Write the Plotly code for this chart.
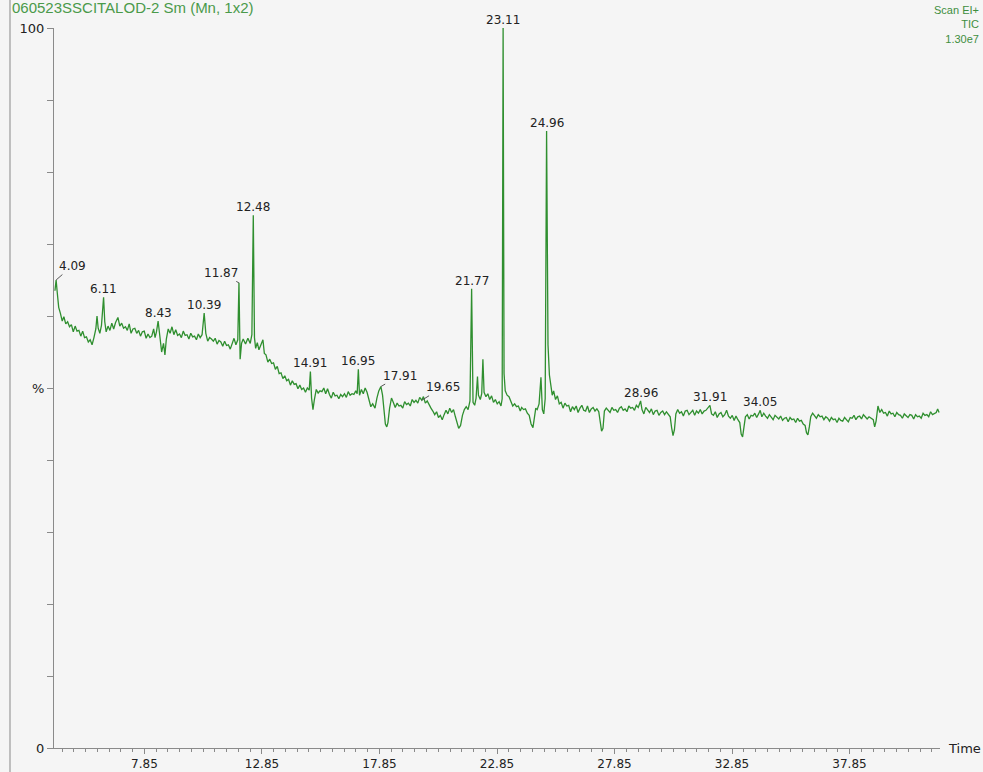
import plotly.graph_objects as go

# ---------------- data ----------------
run_title = "060523SSCITALOD-2 Sm (Mn, 1x2)"
scan_info = ["Scan EI+", "TIC", "1.30e7"]

# (retention time in min, relative intensity in %)
tic_trace = [
    (4.04,63.5),(4.09,65.0),(4.14,63.2),(4.20,61.2),(4.27,60.4),(4.35,59.3),
    (4.42,59.9),(4.50,58.9),(4.58,59.2),(4.66,58.5),(4.74,58.8),(4.82,57.8),(4.90,58.6),(4.98,57.9),
    (5.06,58.0),(5.14,57.2),(5.22,57.9),(5.30,57.0),(5.38,57.1),(5.46,56.4),(5.54,56.7),(5.62,56.0),
    (5.70,57.0),(5.78,58.2),(5.83,60.0),(5.88,58.3),(5.95,57.6),(6.02,58.7),(6.11,62.6),(6.16,59.2),
    (6.22,57.8),(6.30,58.6),(6.38,58.0),(6.46,59.0),(6.54,58.2),(6.62,59.1),
    (6.72,59.8),(6.80,58.6),(6.88,59.0),(6.96,58.3),(7.04,58.5),(7.12,58.0),(7.20,58.9),(7.28,57.6),
    (7.36,58.2),(7.44,58.3),(7.52,57.6),(7.60,58.0),(7.68,57.2),(7.76,57.8),(7.84,57.9),(7.92,56.9),
    (8.00,57.5),(8.08,57.0),(8.16,57.2),(8.24,58.2),(8.30,57.0),
    (8.36,57.8),(8.43,59.3),(8.50,56.8),(8.58,55.0),(8.66,56.2),(8.72,54.6),(8.78,56.8),
    (8.86,58.2),(8.94,57.6),(9.02,58.5),
    (9.10,57.4),(9.18,58.1),(9.26,57.3),(9.34,57.5),(9.42,57.0),(9.50,57.9),(9.58,57.3),(9.66,57.4),
    (9.74,56.8),(9.82,57.6),(9.90,57.1),(9.98,57.2),(10.06,56.7),(10.14,57.5),(10.22,57.0),(10.30,57.4),
    (10.39,60.4),
    (10.46,57.6),(10.54,56.5),(10.62,57.0),(10.70,56.8),(10.78,56.5),(10.86,56.9),(10.94,56.1),(11.02,56.6),
    (11.10,56.4),(11.18,55.8),(11.26,56.5),(11.34,55.9),(11.42,56.0),(11.50,55.4),(11.58,56.3),(11.66,56.9),
    (11.74,56.0),(11.82,56.7),(11.87,64.6),(11.92,54.0),
    (11.98,56.2),(12.05,56.8),(12.15,56.1),(12.25,56.9),(12.35,56.2),(12.42,57.4),(12.48,74.0),(12.53,57.0),
    (12.58,55.5),(12.65,56.3),(12.72,55.3),(12.80,56.0),(12.89,56.7),(12.95,54.8),
    (13.02,54.6),(13.10,53.6),(13.18,54.0),(13.26,53.4),(13.34,53.5),(13.42,52.6),(13.50,53.0),(13.58,52.0),
    (13.66,52.1),(13.74,51.3),(13.82,51.7),(13.90,51.0),(13.98,51.2),(14.06,50.4),(14.14,51.0),(14.22,50.5),
    (14.30,50.6),(14.38,49.9),(14.46,50.4),(14.54,49.8),(14.62,50.0),(14.70,49.4),(14.78,50.0),(14.86,49.7),
    (14.91,52.3),(14.96,48.6),(15.02,47.0),(15.08,48.4),
    (15.16,49.8),(15.24,49.3),(15.32,49.6),(15.40,49.5),(15.48,50.0),(15.56,49.2),(15.64,49.9),(15.72,49.1),
    (15.80,48.6),(15.88,49.4),(15.96,48.9),(16.04,49.0),(16.12,48.5),(16.20,49.1),(16.28,48.8),(16.36,49.2),
    (16.44,48.7),(16.52,49.5),(16.60,49.0),(16.68,49.2),(16.76,49.1),(16.84,49.6),(16.90,49.2),
    (16.95,52.6),(17.00,49.0),(17.08,49.8),(17.16,49.2),(17.24,50.0),(17.32,49.4),(17.40,48.4),
    (17.48,47.4),(17.56,47.8),(17.66,47.2),(17.74,48.6),(17.82,49.6),(17.91,50.2),(17.98,49.0),(18.04,47.0),
    (18.10,45.0),(18.16,44.6),(18.21,45.2),(18.28,47.2),(18.36,48.6),
    (18.44,48.0),(18.52,47.3),(18.60,47.9),(18.68,47.5),(18.76,47.6),(18.84,47.2),(18.92,48.1),(19.00,47.7),
    (19.08,47.9),(19.16,47.5),(19.24,48.4),(19.32,48.0),(19.40,48.3),(19.48,47.9),(19.56,48.7),(19.65,48.3),
    (19.72,48.8),(19.80,47.9),(19.88,48.2),(19.96,47.6),
    (20.04,47.2),(20.12,46.8),(20.20,46.3),(20.28,46.7),(20.36,45.9),(20.44,46.2),(20.52,45.6),
    (20.60,46.3),(20.68,46.9),(20.76,46.4),(20.84,47.2),(20.92,46.6),(21.00,47.0),(21.08,46.0),(21.16,45.0),
    (21.22,44.4),(21.30,44.8),(21.38,46.2),(21.46,47.0),(21.54,47.4),(21.62,47.0),(21.70,48.2),(21.77,63.8),
    (21.83,48.0),(21.90,47.6),(21.96,48.6),(22.02,51.6),(22.06,49.0),(22.14,48.4),(22.20,49.2),(22.25,54.0),
    (22.30,49.4),(22.38,48.8),(22.46,49.2),(22.54,48.4),(22.62,48.9),(22.70,48.0),(22.78,48.4),(22.86,47.8),
    (22.94,48.1),(23.02,47.5),(23.07,48.5),(23.11,100.0),(23.15,52.0),(23.20,49.6),(23.28,49.0),(23.36,48.8),
    (23.44,48.2),(23.52,47.5),(23.60,47.8),(23.68,47.4),(23.76,47.5),(23.84,46.8),(23.90,47.3),(23.98,47.0),
    (24.06,47.1),(24.14,46.5),(24.22,46.2),
    (24.30,45.0),(24.38,44.5),(24.44,46.0),(24.50,47.2),(24.56,47.0),
    (24.64,47.8),(24.72,51.5),(24.78,47.0),(24.84,46.4),(24.90,48.5),(24.96,85.7),(25.02,56.0),(25.08,51.8),
    (25.14,50.2),(25.20,49.0),(25.26,49.6),(25.34,48.4),
    (25.42,48.9),(25.50,47.8),(25.58,48.0),(25.66,47.2),(25.74,47.9),(25.82,47.5),(25.90,47.6),(25.98,46.7),
    (26.06,47.4),(26.14,47.0),(26.22,47.5),(26.30,46.6),(26.38,47.2),(26.46,47.6),(26.54,46.9),(26.62,46.8),
    (26.70,47.5),(26.78,46.6),(26.86,47.1),(26.94,47.3),(27.02,46.8),(27.10,47.1),(27.18,46.7),
    (27.24,45.6),(27.30,44.0),(27.36,44.4),
    (27.42,46.8),(27.50,47.2),(27.58,46.9),(27.66,46.6),(27.74,47.3),(27.82,46.9),(27.90,47.0),(27.98,46.6),
    (28.06,47.2),(28.14,47.4),(28.22,46.9),(28.30,47.1),(28.38,46.7),(28.46,47.5),(28.54,47.2),(28.62,47.3),
    (28.70,46.9),(28.78,47.6),(28.86,47.3),(28.96,48.2),
    (29.02,47.0),(29.10,46.4),(29.18,47.3),(29.26,46.9),(29.34,46.6),(29.42,47.1),(29.50,46.3),(29.58,46.8),
    (29.66,46.9),(29.74,46.2),(29.82,46.6),(29.90,46.8),(29.98,46.3),(30.06,46.7),(30.14,46.4),(30.22,46.0),
    (30.28,44.5),(30.34,43.4),(30.40,44.2),
    (30.46,46.4),(30.54,47.0),(30.62,46.5),(30.70,46.7),(30.78,46.1),(30.86,46.8),(30.94,46.9),(31.02,46.3),
    (31.10,46.6),(31.18,46.9),(31.26,46.2),(31.34,46.8),(31.42,46.5),(31.50,47.0),(31.58,46.4),(31.66,46.8),
    (31.74,46.9),(31.82,47.2),(31.91,47.6),
    (31.98,46.4),(32.06,46.2),(32.14,46.7),(32.22,45.9),(32.30,46.4),(32.38,46.6),(32.46,46.0),(32.54,46.3),
    (32.62,46.9),(32.70,46.1),(32.78,45.8),(32.86,46.2),(32.94,45.5),(33.02,46.1),(33.10,45.6),(33.18,45.2),
    (33.24,43.6),(33.30,43.2),(33.36,44.6),
    (33.42,46.0),(33.50,46.3),(33.58,45.7),(33.66,46.2),(33.74,46.1),(33.82,46.5),(33.90,45.9),(33.98,46.4),
    (34.05,46.9),(34.12,46.0),(34.20,46.5),(34.28,46.1),(34.36,45.8),(34.44,46.3),(34.52,46.0),(34.60,45.6),
    (34.68,46.2),(34.76,45.9),(34.84,45.7),(34.92,46.1),(35.00,45.5),(35.08,45.8),(35.16,45.9),(35.24,45.3),
    (35.32,45.9),(35.40,45.6),(35.48,45.7),(35.56,45.2),(35.64,45.8),(35.72,45.4),(35.80,45.5),(35.88,45.0),
    (35.96,44.8),(36.02,43.8),(36.08,43.5),(36.14,44.6),
    (36.20,46.0),(36.28,46.5),(36.36,46.1),(36.44,45.8),(36.52,46.3),(36.60,46.0),(36.68,46.1),(36.76,45.6),
    (36.84,46.0),(36.92,45.8),(37.00,45.4),(37.08,45.9),(37.16,45.6),(37.24,45.7),(37.32,45.2),(37.40,45.8),
    (37.48,45.5),(37.56,45.4),(37.64,45.9),(37.72,45.6),(37.80,45.3),(37.88,45.9),(37.96,45.8),(38.04,46.2),
    (38.12,45.6),(38.20,46.0),(38.28,46.1),(38.36,45.7),(38.44,46.3),(38.52,46.0),(38.60,45.7),(38.68,46.0),
    (38.76,45.8),(38.86,45.6),(38.92,44.6),(38.98,45.4),(39.06,47.5),
    (39.14,46.6),(39.22,47.0),(39.30,46.5),(39.38,46.6),(39.46,46.1),(39.54,46.8),(39.62,46.4),(39.70,46.5),
    (39.78,46.0),(39.86,46.6),(39.94,46.3),(40.02,46.2),(40.10,45.8),(40.18,46.4),(40.26,46.1),(40.34,45.9),
    (40.42,46.3),(40.50,46.2),(40.58,45.7),(40.66,46.3),(40.74,46.0),(40.82,46.1),(40.90,45.8),(40.98,46.5),
    (41.06,46.2),(41.14,46.3),(41.22,46.0),(41.30,46.7),(41.38,46.3),(41.46,46.5),(41.54,46.6),(41.60,47.1),
    (41.66,46.6),
]

peak_times = [4.09, 6.11, 8.43, 10.39, 11.87, 12.48, 14.91, 16.95, 17.91, 19.65,
              21.77, 23.11, 24.96, 28.96, 31.91, 34.05]

x_tick_values = [7.85, 12.85, 17.85, 22.85, 27.85, 32.85, 37.85]
x_tick_labels = ["7.85", "12.85", "17.85", "22.85", "27.85", "32.85", "37.85"]
y_tick_values = [0, 10, 20, 30, 40, 50, 60, 70, 80, 90, 100]
y_tick_labels = ["0", "", "", "", "", "%", "", "", "", "", "100"]

# ---------------- styling ----------------
times = [p[0] for p in tic_trace]
values = [p[1] for p in tic_trace]
lookup = dict(tic_trace)

BG = "#f5f5f5"
GREEN = "#2f8f2f"
TXT = "#222222"
AXIS = "#8a8a8a"
W, H = 983, 772
ML, MR, MT, MB = 54, 43, 28, 24
PW, PH = W - ML - MR, H - MT - MB

def px_x(px):
    return (px - ML) / PW

def px_y(py):
    return (H - MB - py) / PH

label_font = dict(family="DejaVu Sans", size=12, color=TXT)

# leader-line offsets (pixels) for labels drawn off to one side
leader = {4.09: (16, -14), 11.87: (-18, -10), 17.91: (19, -11), 19.65: (21, -13)}

fig = go.Figure()
fig.add_trace(go.Scatter(x=times, y=values, mode="lines",
                         line=dict(color=GREEN, width=1.3), hoverinfo="skip",
                         showlegend=False))

annotations = []
for t in peak_times:
    v = lookup[t]
    txt = f"{t:.2f}"
    if t in leader:
        dx, dy = leader[t]
        annotations.append(dict(x=t, y=v, text=txt, showarrow=True, ax=dx, ay=dy,
                                arrowhead=0, arrowwidth=1, arrowcolor="#555555",
                                standoff=0, font=label_font))
    else:
        annotations.append(dict(x=t, y=v, text=txt, showarrow=False,
                                yanchor="bottom", yshift=-1, font=label_font))

annotations.append(dict(xref="paper", yref="paper", x=px_x(10), y=px_y(18),
                        xanchor="left", yanchor="bottom", showarrow=False,
                        text=run_title,
                        font=dict(family="Liberation Sans", size=15, color="#4a9a4a")))
annotations.append(dict(xref="paper", yref="paper", x=px_x(981), y=px_y(2),
                        xanchor="right", yanchor="top", align="right", showarrow=False,
                        text="<br>".join(scan_info),
                        font=dict(family="Liberation Sans", size=11, color="#3e8e3e")))
annotations.append(dict(xref="paper", yref="paper", x=px_x(946), y=0,
                        xanchor="left", yanchor="middle", showarrow=False,
                        text="Time", font=dict(family="DejaVu Sans", size=13, color=TXT)))

fig.update_layout(
    width=W, height=H,
    margin=dict(l=ML, r=MR, t=MT, b=MB, pad=0, autoexpand=False),
    paper_bgcolor=BG, plot_bgcolor=BG,
    annotations=annotations,
    shapes=[dict(type="line", xref="paper", yref="paper",
                 x0=px_x(10), x1=px_x(10), y0=px_y(H), y1=px_y(0),
                 line=dict(color="#9a9a9a", width=1.2))],
    xaxis=dict(range=[4.0, 41.7], showgrid=False, zeroline=False, automargin=False,
               showline=True, linecolor=AXIS, linewidth=1,
               tickmode="array", tickvals=x_tick_values, ticktext=x_tick_labels,
               ticks="outside", ticklen=5, tickcolor=AXIS, ticklabelstandoff=0,
               tickfont=dict(family="DejaVu Sans", size=12, color=TXT),
               minor=dict(tickmode="linear", tick0=7.85, dtick=0.5, ticks="outside",
                          ticklen=3, tickcolor=AXIS)),
    yaxis=dict(range=[0, 100], showgrid=False, zeroline=False, automargin=False,
               showline=True, linecolor=AXIS, linewidth=1,
               tickmode="array", tickvals=y_tick_values, ticktext=y_tick_labels,
               ticks="outside", ticklen=6, tickcolor=AXIS,
               tickfont=dict(family="DejaVu Sans", size=13, color=TXT)),
)

fig.write_html("out.html", config={"displayModeBar": False},
               post_script="document.body.style.margin='0';")
